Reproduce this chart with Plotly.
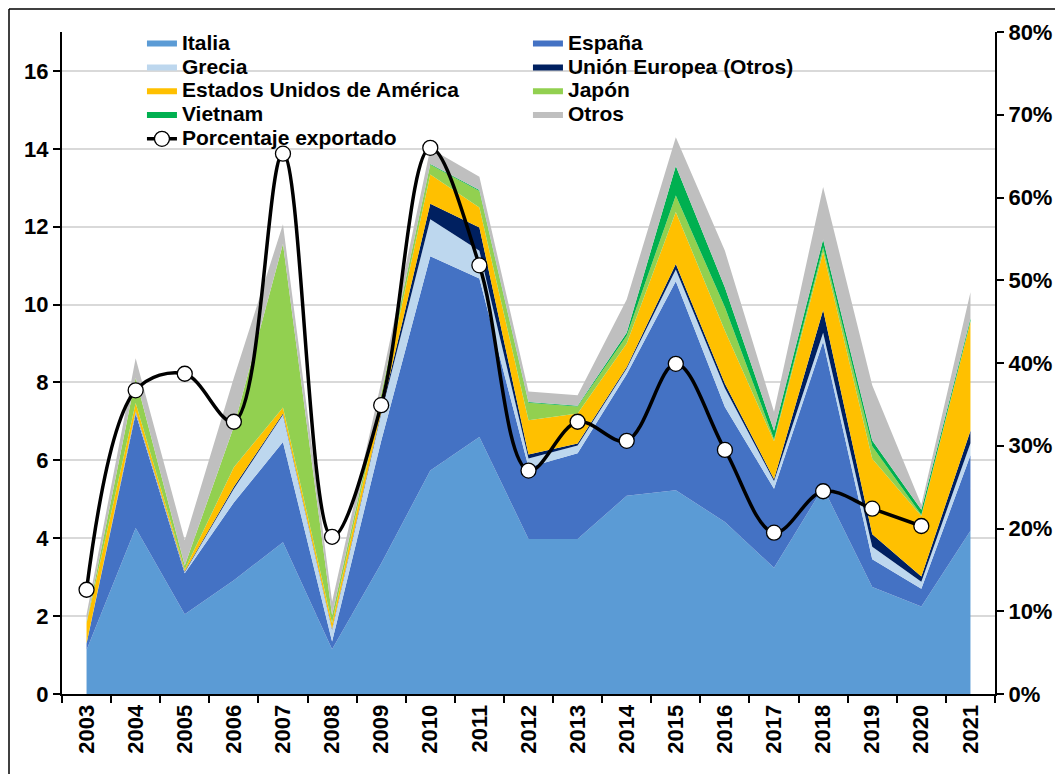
import plotly.graph_objects as go

years = [str(y) for y in range(2003, 2022)]

italia  = [1.13, 4.26, 2.05, 2.92, 3.90, 1.15, 3.35, 5.74, 6.60, 3.98, 3.98, 5.09, 5.23, 4.42, 3.24, 5.30, 2.75, 2.25, 4.19]
espana  = [0.17, 2.94, 1.05, 2.00, 2.57, 0.20, 3.15, 5.50, 4.07, 1.84, 2.20, 3.12, 5.37, 2.95, 2.03, 3.75, 0.71, 0.45, 1.94]
grecia  = [0.00, 0.05, 0.03, 0.35, 0.70, 0.30, 0.70, 0.95, 0.71, 0.23, 0.20, 0.15, 0.30, 0.48, 0.20, 0.23, 0.32, 0.18, 0.31]
ue      = [0.00, 0.02, 0.02, 0.05, 0.03, 0.02, 0.05, 0.40, 0.60, 0.10, 0.05, 0.04, 0.14, 0.12, 0.05, 0.58, 0.32, 0.14, 0.32]
eeuu    = [0.52, 0.20, 0.05, 0.50, 0.16, 0.15, 0.30, 0.75, 0.51, 0.88, 0.77, 0.60, 1.34, 1.36, 0.97, 1.49, 1.94, 1.55, 2.79]
japon   = [0.02, 0.65, 0.10, 1.05, 4.20, 0.20, 0.15, 0.25, 0.43, 0.45, 0.18, 0.20, 0.42, 0.60, 0.05, 0.12, 0.32, 0.03, 0.03]
vietnam = [0.00, 0.00, 0.00, 0.00, 0.00, 0.00, 0.00, 0.02, 0.02, 0.02, 0.02, 0.08, 0.76, 0.51, 0.22, 0.20, 0.15, 0.13, 0.06]
otros   = [0.20, 0.50, 0.65, 1.25, 0.50, 0.35, 0.30, 0.40, 0.34, 0.27, 0.27, 0.85, 0.74, 0.94, 0.49, 1.35, 1.42, 0.13, 0.68]

pct_years = years[:-1]
porcentaje = [0.126, 0.367, 0.387, 0.329, 0.653, 0.190, 0.349, 0.660, 0.518, 0.270, 0.329, 0.306,
              0.399, 0.295, 0.195, 0.245, 0.224, 0.203]

series = [
    ("Italia", italia, "#5B9BD5"),
    ("España", espana, "#4472C4"),
    ("Grecia", grecia, "#BDD7EE"),
    ("Unión Europea (Otros)", ue, "#002060"),
    ("Estados Unidos de América", eeuu, "#FFC000"),
    ("Japón", japon, "#92D050"),
    ("Vietnam", vietnam, "#00B050"),
    ("Otros", otros, "#BFBFBF"),
]

FONT = "Liberation Sans, Arial, sans-serif"


def legend_label(text):
    return "<span style='font-size:21px'>" + text + "</span>"


fig = go.Figure()
for name, vals, color in series:
    fig.add_trace(go.Scatter(
        x=years, y=vals, name=legend_label(name), stackgroup="one", mode="none",
        fillcolor=color, line=dict(width=0), hovertemplate=name + ": %{y}<extra></extra>"))

fig.add_trace(go.Scatter(
    x=pct_years, y=porcentaje, name=legend_label("Porcentaje exportado"), yaxis="y2",
    mode="lines+markers",
    line=dict(color="black", width=3.5, shape="spline", smoothing=1),
    marker=dict(size=15, color="white", line=dict(color="black", width=1.3)),
    hovertemplate="Porcentaje exportado: %{y:.1%}<extra></extra>"))

tickfont = dict(family=FONT, size=22, color="black", weight="bold")

# page has an 8px body margin: figure is sized/offset to compensate
fig.update_layout(
    width=1055, height=766,
    margin=dict(l=54, r=68, t=24, b=80),
    paper_bgcolor="white", plot_bgcolor="white",
    font=dict(family=FONT, color="black"),
    showlegend=True,
    legend=dict(
        orientation="h", x=0.0857, y=1.008, xanchor="left", yanchor="top",
        traceorder="normal", entrywidth=341, entrywidthmode="pixels",
        bgcolor="rgba(0,0,0,0)",
        font=dict(family=FONT, size=16, color="black", weight="bold"),
        itemwidth=30),
    xaxis=dict(
        type="category", range=[-0.5, 18.5], tickson="boundaries",
        ticks="outside", ticklen=7,
        tickwidth=2, tickcolor="black", showline=True, linecolor="black",
        linewidth=2, tickangle=-90, tickfont=tickfont, showgrid=False),
    yaxis=dict(
        range=[0, 17], tick0=0, dtick=2, ticks="outside", ticklen=7,
        tickwidth=2, tickcolor="black", showline=True, linecolor="black",
        linewidth=2, showgrid=True, gridcolor="#D9D9D9", gridwidth=2,
        zeroline=False, tickfont=tickfont),
    yaxis2=dict(
        overlaying="y", side="right", range=[0, 0.8], tick0=0, dtick=0.1,
        tickformat=".0%", ticks="outside", ticklen=7, tickwidth=2,
        tickcolor="black", showline=True, linecolor="black", linewidth=2,
        showgrid=False, zeroline=False, tickfont=tickfont),
    shapes=[
        dict(type="line", xref="paper", yref="paper",
             x0=(9 - 62) / 933, x1=(1063 - 62) / 933,
             y0=(694 - 9) / 662, y1=(694 - 9) / 662,
             line=dict(color="black", width=1.5), layer="above"),
        dict(type="line", xref="paper", yref="paper",
             x0=(9 - 62) / 933, x1=(9 - 62) / 933,
             y0=(694 - 9) / 662, y1=(694 - 774) / 662,
             line=dict(color="black", width=1.5), layer="above"),
    ],
)

fig.write_html("out.html")
